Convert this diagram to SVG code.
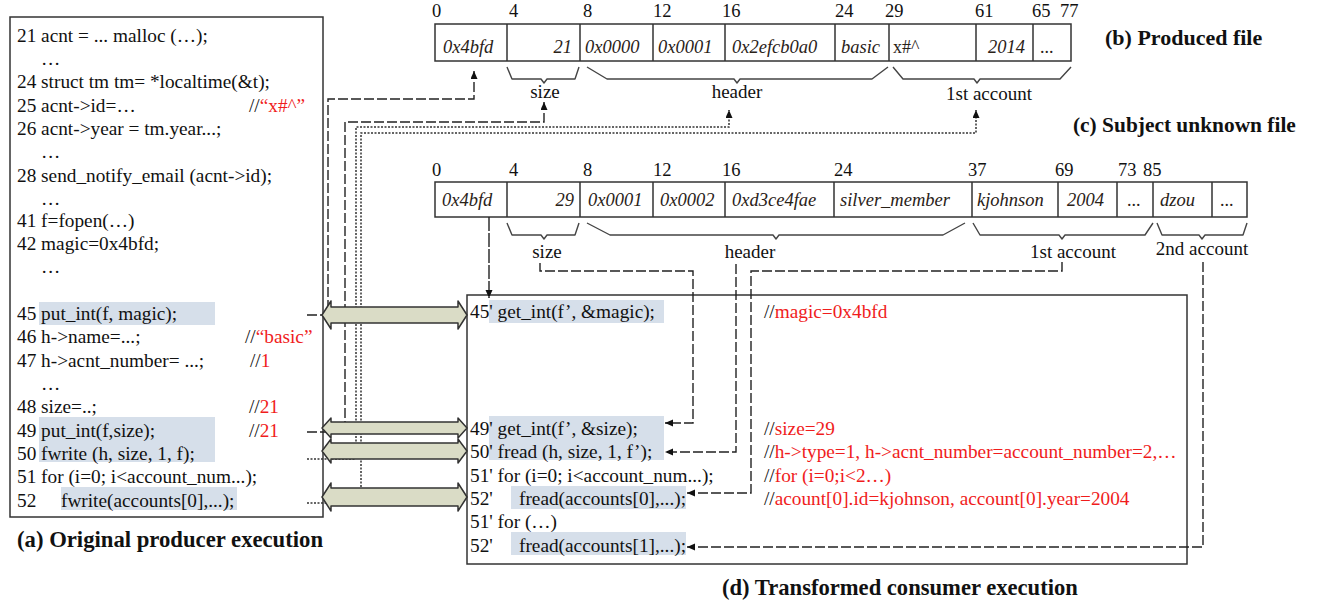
<svg xmlns="http://www.w3.org/2000/svg" width="1327" height="604" viewBox="0 0 1327 604">
<defs>
<style>
text { font-family: "Liberation Serif", "Times New Roman", serif; fill: #111; }
.code { font-size: 19.3px; }
.r { fill: #f01c1c; }
.title { font-size: 22px; font-weight: bold; }
.off { font-size: 18.5px; }
.cell { font-size: 18.5px; font-style: italic; fill: #2a2218; }
.cellu { font-size: 18px; fill: #2a2218; }
.lbl { font-size: 19px; text-anchor: middle; }
.box { fill: #fff; stroke: #333; stroke-width: 1.5; }
.hl { fill: #d6dfea; }
.tbl { fill: none; stroke: #333; stroke-width: 1.5; }
.brace { fill: none; stroke: #444; stroke-width: 1.4; stroke-linejoin: round; }
.dash { fill: none; stroke: #222; stroke-width: 1.4; stroke-dasharray: 10 3; }
.ldash { fill: none; stroke: #222; stroke-width: 1.4; stroke-dasharray: 14 2; }
.dot { fill: none; stroke: #333; stroke-width: 1.5; stroke-dasharray: 2 1.5; }
.blk { fill: #dadcc6; stroke: #333; stroke-width: 1.5; stroke-linejoin: round; }
</style>
<marker id="ah" markerWidth="9" markerHeight="8" refX="8" refY="3.5" orient="auto" markerUnits="userSpaceOnUse">
<path d="M0,0 L8,3.5 L0,7 z" fill="#111"/>
</marker>
</defs>
<rect width="1327" height="604" fill="#fff"/>

<!-- (a) producer source -->
<g id="producer">
<rect class="box" x="10" y="17" width="313" height="500"/>
<rect class="hl" x="39" y="302" width="176" height="23"/>
<rect class="hl" x="39" y="417" width="176" height="45"/>
<rect class="hl" x="61" y="487" width="176" height="23"/>
<text class="code" x="17" y="42">21 acnt = ... malloc (…);</text>
<text class="code" x="41" y="65">…</text>
<text class="code" x="17" y="88">24 struct tm tm= *localtime(&amp;t);</text>
<text class="code" x="17" y="112">25 acnt-&gt;id=…</text>
<text class="code" x="249" y="112">//<tspan class="r">“x#^”</tspan></text>
<text class="code" x="17" y="135">26 acnt-&gt;year = tm.year...;</text>
<text class="code" x="41" y="158">…</text>
<text class="code" x="17" y="182">28 send_notify_email (acnt-&gt;id);</text>
<text class="code" x="41" y="205">…</text>
<text class="code" x="17" y="227">41 f=fopen(…)</text>
<text class="code" x="17" y="250">42 magic=0x4bfd;</text>
<text class="code" x="41" y="273">…</text>
<text class="code" x="17" y="320">45 put_int(f, magic);</text>
<text class="code" x="17" y="343">46 h-&gt;name=...;</text>
<text class="code" x="245" y="343">//<tspan class="r">“basic”</tspan></text>
<text class="code" x="17" y="367">47 h-&gt;acnt_number= ...;</text>
<text class="code" x="250" y="367">//<tspan class="r">1</tspan></text>
<text class="code" x="41" y="390">…</text>
<text class="code" x="17" y="413">48 size=..;</text>
<text class="code" x="249" y="413">//<tspan class="r">21</tspan></text>
<text class="code" x="17" y="437">49 put_int(f,size);</text>
<text class="code" x="249" y="437">//<tspan class="r">21</tspan></text>
<text class="code" x="17" y="460">50 fwrite (h, size, 1, f);</text>
<text class="code" x="17" y="483">51 for (i=0; i&lt;account_num...);</text>
<text class="code" x="17" y="507">52</text>
<text class="code" x="61" y="507">fwrite(accounts[0],...);</text>
<text class="title" x="17" y="547" style="font-size:22.7px">(a) Original producer execution</text>
</g>

<!-- (b) produced file layout -->
<g id="produced-file">
<rect class="tbl" x="435" y="24" width="636" height="37"/>
<path class="tbl" d="M507,24V61 M580,24V61 M653,24V61 M725,24V61 M835,24V61 M889,24V61 M976,24V61 M1033,24V61"/>
<text class="off" x="432" y="17">0</text>
<text class="off" x="509" y="17">4</text>
<text class="off" x="583" y="17">8</text>
<text class="off" x="653" y="17">12</text>
<text class="off" x="722" y="17">16</text>
<text class="off" x="835" y="17">24</text>
<text class="off" x="885" y="17">29</text>
<text class="off" x="975" y="17">61</text>
<text class="off" x="1032" y="17">65</text>
<text class="off" x="1060" y="17">77</text>
<text class="cell" x="443" y="53">0x4bfd</text>
<text class="cell" x="572" y="53" text-anchor="end">21</text>
<text class="cell" x="585" y="53">0x0000</text>
<text class="cell" x="658" y="53">0x0001</text>
<text class="cell" x="732" y="53">0x2efcb0a0</text>
<text class="cell" x="841" y="53">basic</text>
<text class="cellu" x="893" y="53">x#^</text>
<text class="cell" x="988" y="53">2014</text>
<text class="cellu" x="1040" y="53">...</text>
<path class="brace" d="M507,67 L512,79 L541,79 L544,83 L547,79 L575,79 L579,67"/>
<path class="brace" d="M587,67 L607,79 L734,79 L737,83 L740,79 L872,79 L888,67"/>
<path class="brace" d="M893,67 L903,79 L974,79 L977,83 L980,79 L1060,79 L1071,67"/>
<text class="lbl" x="545" y="98">size</text>
<text class="lbl" x="737" y="98">header</text>
<text class="lbl" x="989" y="100">1st account</text>
<text class="title" x="1105" y="45">(b) Produced file</text>
</g>

<!-- (c) subject unknown file layout -->
<g id="unknown-file">
<rect class="tbl" x="435" y="182" width="812" height="35"/>
<path class="tbl" d="M507,182V217 M580,182V217 M653,182V217 M725,182V217 M834,182V217 M972,182V217 M1058,182V217 M1117,182V217 M1153,182V217 M1212,182V217"/>
<text class="off" x="432" y="176">0</text>
<text class="off" x="509" y="176">4</text>
<text class="off" x="583" y="176">8</text>
<text class="off" x="653" y="176">12</text>
<text class="off" x="722" y="176">16</text>
<text class="off" x="834" y="176">24</text>
<text class="off" x="968" y="176">37</text>
<text class="off" x="1055" y="176">69</text>
<text class="off" x="1118" y="176">73</text>
<text class="off" x="1143" y="176">85</text>
<text class="cell" x="442" y="206">0x4bfd</text>
<text class="cell" x="574" y="206" text-anchor="end">29</text>
<text class="cell" x="588" y="206">0x0001</text>
<text class="cell" x="660" y="206">0x0002</text>
<text class="cell" x="732" y="206">0xd3ce4fae</text>
<text class="cell" x="840" y="206">silver_member</text>
<text class="cell" x="977" y="206">kjohnson</text>
<text class="cell" x="1067" y="206">2004</text>
<text class="cellu" x="1127" y="206">...</text>
<text class="cell" x="1160" y="206">dzou</text>
<text class="cellu" x="1220" y="206">...</text>
<path class="brace" d="M507,223 L512,235 L541,235 L544,239 L547,235 L575,235 L579,223"/>
<path class="brace" d="M587,223 L610,235 L773,235 L776,239 L779,235 L943,235 L965,223"/>
<path class="brace" d="M973,223 L980,235 L1059,235 L1062,239 L1065,235 L1145,235 L1153,223"/>
<path class="brace" d="M1157,223 L1162,235 L1199,235 L1202,239 L1205,235 L1243,235 L1247,223"/>
<text class="lbl" x="547" y="258">size</text>
<text class="lbl" x="750" y="258">header</text>
<text class="lbl" x="1073" y="258">1st account</text>
<text class="lbl" x="1202" y="255">2nd account</text>
<text class="title" x="1073" y="132" style="font-size:21.4px">(c) Subject unknown file</text>
</g>

<!-- (d) consumer source -->
<g id="consumer">
<rect class="box" x="467" y="295" width="720" height="269"/>
<rect class="hl" x="489" y="300" width="175" height="23"/>
<rect class="hl" x="489" y="416" width="175" height="44"/>
<rect class="hl" x="511" y="486" width="175" height="23"/>
<rect class="hl" x="511" y="532" width="175" height="23"/>
<text class="code" x="470" y="318">45' get_int(f’, &amp;magic);</text>
<text class="code" x="470" y="435">49' get_int(f’, &amp;size);</text>
<text class="code" x="470" y="458">50' fread (h, size, 1, f’);</text>
<text class="code" x="470" y="482">51' for (i=0; i&lt;account_num...);</text>
<text class="code" x="470" y="505">52'</text>
<text class="code" x="519" y="505">fread(accounts[0],...);</text>
<text class="code" x="470" y="528">51' for (…)</text>
<text class="code" x="470" y="552">52'</text>
<text class="code" x="519" y="552">fread(accounts[1],...);</text>
<text class="code" x="764" y="318">//<tspan class="r">magic=0x4bfd</tspan></text>
<text class="code" x="764" y="435">//<tspan class="r">size=29</tspan></text>
<text class="code" x="764" y="458">//<tspan class="r">h-&gt;type=1, h-&gt;acnt_number=account_number=2,…</tspan></text>
<text class="code" x="764" y="482">//<tspan class="r">for (i=0;i&lt;2…)</tspan></text>
<text class="code" x="764" y="505">//<tspan class="r">acount[0].id=kjohnson, account[0].year=2004</tspan></text>
<text class="title" x="722" y="595" style="font-size:22.6px">(d) Transformed consumer execution</text>
</g>

<!-- connectors -->
<g id="connectors">
<path class="dash" d="M307,315 H328 V99 H474 V71" marker-end="url(#ah)"/>
<path class="dash" d="M307,432 H345 V122 H544 V102" marker-end="url(#ah)"/>
<path class="dot" d="M307,459 H356 V127 H729 V110" marker-end="url(#ah)"/>
<path class="dot" d="M307,503 H361 V133 H976 V110" marker-end="url(#ah)"/>
<path class="ldash" d="M489,217 V298" marker-end="url(#ah)"/>
<path class="dash" d="M540,263 V271 H693 V423 H665" marker-end="url(#ah)"/>
<path class="dash" d="M736,264 V452 H665" marker-end="url(#ah)"/>
<path class="dash" d="M1062,262 V271 H751 V493 H687" marker-end="url(#ah)"/>
<path class="dash" d="M1203,262 V547 H687" marker-end="url(#ah)"/>
<polygon class="blk" points="322,315 331,301 331,307 458,307 458,301 467,315 458,329 458,323 331,323 331,329"/>
<polygon class="blk" points="322,428 331,418 331,422 458,422 458,418 467,428 458,438 458,434 331,434 331,438"/>
<polygon class="blk" points="322,451 331,439 331,443 458,443 458,439 467,451 458,463 458,459 331,459 331,463"/>
<polygon class="blk" points="322,497 331,483 331,488 458,488 458,483 467,497 458,511 458,506 331,506 331,511"/>
</g>
</svg>
